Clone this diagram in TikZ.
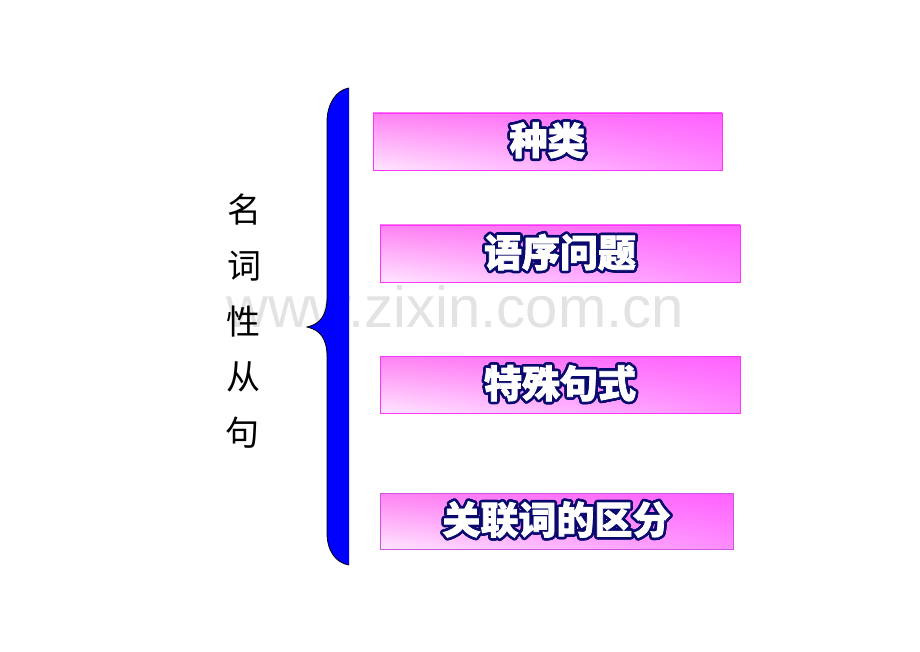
\documentclass[tikz,border=0pt]{standalone}
\usepackage{fontspec}
\usetikzlibrary{shadings}
\usepackage[copies]{contour}
\newfontfamily\cjk{Noto Sans CJK SC}
\newfontfamily\cjkb[FakeBold=2]{Noto Sans CJK SC}
\newfontfamily\wmfont{Liberation Sans}
\definecolor{navyout}{HTML}{0A0A6E}
\definecolor{boxedge}{HTML}{FF33FF}
\definecolor{boxedgeb}{HTML}{CC55DD}
\definecolor{braceblue}{HTML}{0000FF}
\definecolor{wm}{HTML}{E3E3E3}
\contourlength{2.6pt}
\contournumber{24}
\tikzset{
  itembox/.style={draw=boxedge, line width=0.9pt, minimum height=57pt, inner sep=0pt,
    lower left=white!90!magenta, upper left=white!45!magenta!80!pink,
    upper right=magenta!62!white, lower right=white!55!magenta,
    font=\cjkb\bfseries\fontsize{38}{40}\selectfont, text=white},
  sidechar/.style={font=\cjk\fontsize{34}{36}\selectfont, text=black, inner sep=0pt}
}
\newcommand{\outl}[1]{\contour{navyout}{#1}}
\begin{document}
\begin{tikzpicture}[x=1pt,y=-1pt]
\useasboundingbox (0,0) rectangle (920,652);
\fill[white] (0,0) rectangle (920,652);
% watermark
\node[font=\wmfont\fontsize{58}{62}\selectfont, text=wm, inner sep=0pt, anchor=base west] (wmark) at (226,327) {www.zixin.com.cn};
% brace
\fill[braceblue] (349,88) .. controls (336,90) and (327,104) .. (327,122) -- (327,298)
  .. controls (327,314) and (321,324) .. (307,327)
  .. controls (321,330) and (327,340) .. (327,356) -- (327,533)
  .. controls (327,551) and (336,563) .. (349,565) -- cycle;
\draw[black, line width=0.8pt] (349,88) .. controls (336,90) and (327,104) .. (327,122) -- (327,298)
  .. controls (327,314) and (321,324) .. (307,327)
  .. controls (321,330) and (327,340) .. (327,356) -- (327,533)
  .. controls (327,551) and (336,563) .. (349,565);
% side text
\node[sidechar] (c1) at (244,210) {名};
\node[sidechar] (c2) at (244,266) {词};
\node[sidechar] (c3) at (243,322) {性};
\node[sidechar] (c4) at (243,377) {从};
\node[sidechar] (c5) at (242,433) {句};
% boxes
\node[itembox, minimum width=349pt] (b1) at (547.5,141.5) {\outl{种类}};
\node[itembox, minimum width=360pt] (b2) at (560,253.5) {\outl{语序问题}};
\node[itembox, minimum width=360pt] (b3) at (560,384.5) {\outl{特殊句式}};
\node[itembox, draw=boxedgeb, minimum width=353pt, minimum height=56pt] (b4) at (556.5,521) {\outl{关联词的区分}};
\end{tikzpicture}
\end{document}
